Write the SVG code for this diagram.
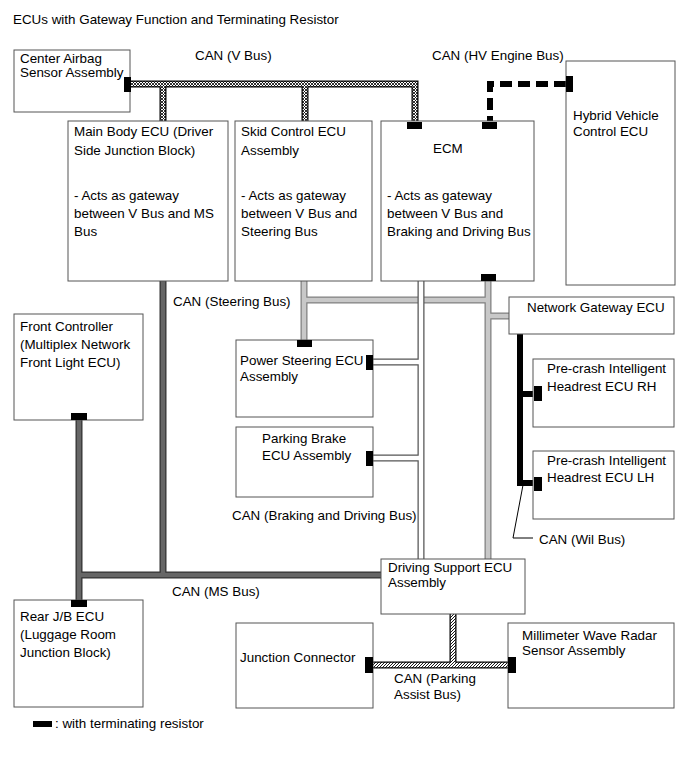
<svg xmlns="http://www.w3.org/2000/svg" width="689" height="757" viewBox="0 0 689 757">
<style>
text{font-family:"Liberation Sans",Arial,sans-serif;font-size:13.4px;fill:#000}
.box{fill:#fff;stroke:#555;stroke-width:1}
.res{fill:#000}
.bus{fill:none;stroke-linecap:butt;stroke-linejoin:miter}
</style>
<defs>
<pattern id="xh" width="3" height="3" patternUnits="userSpaceOnUse">
<rect width="3" height="3" fill="#fff"/>
<path d="M0,0L3,3M3,0L0,3" stroke="#000" stroke-width="0.8"/>
</pattern>
<pattern id="dh" width="3" height="3" patternUnits="userSpaceOnUse">
<rect width="3" height="3" fill="#fff"/>
<path d="M-1,4L4,-1M-1,1L1,-1M2,4L4,2" stroke="#000" stroke-width="0.9"/>
</pattern>
</defs>
<rect width="689" height="757" fill="#fff"/>
<text x="13" y="24">ECUs with Gateway Function and Terminating Resistor</text>

<g id="connectors">
<!-- V Bus -->
<path class="bus" d="M131,84H415V122M163,84V121M305,84V121" stroke="#000" stroke-width="7"/>
<path class="bus" d="M131,84H415V122M163,84V121M305,84V121" stroke="url(#xh)" stroke-width="4.5"/>
<!-- HV Engine Bus -->
<path class="bus" d="M566,84H490V122" stroke="#000" stroke-width="6" stroke-dasharray="12 6"/>
<!-- Steering Bus -->
<path class="bus" d="M304,281V340M304,300H488M488,281V559M488,316H509" stroke="#808080" stroke-width="7"/>
<path class="bus" d="M304,281V340M304,300H488M488,281V559M488,316H509" stroke="#c8c8c8" stroke-width="4.5"/>
<!-- Braking and Driving Bus -->
<path class="bus" d="M421,281V559M373,362H421M373,458H421" stroke="#555" stroke-width="7"/>
<path class="bus" d="M421,281V559M373,362H421M373,458H421" stroke="#fff" stroke-width="4.5"/>
<!-- MS Bus -->
<path class="bus" d="M79,420V600M163,281V575M79,575H381" stroke="#333" stroke-width="7"/>
<path class="bus" d="M79,420V600M163,281V575M79,575H381" stroke="#666" stroke-width="4.5"/>
<!-- Wil Bus -->
<path class="bus" d="M520,334V483H534M520,394H534" stroke="#000" stroke-width="6"/>
<path d="M523,485L513,538H533" fill="none" stroke="#000" stroke-width="1"/>
<!-- Parking Assist Bus -->
<path class="bus" d="M453,614V665M373,665H508" stroke="#000" stroke-width="7"/>
<path class="bus" d="M453,614V665M373,665H508" stroke="url(#dh)" stroke-width="4.5"/>
</g>

<g id="labels">
<text x="195" y="60">CAN (V Bus)</text>
<text x="432" y="60">CAN (HV Engine Bus)</text>
<text x="173" y="306">CAN (Steering Bus)</text>
<text x="232" y="520">CAN (Braking and Driving Bus)</text>
<text x="172" y="596">CAN (MS Bus)</text>
<text x="539" y="544">CAN (Wil Bus)</text>
<text x="394" y="683">CAN (Parking</text>
<text x="394" y="699">Assist Bus)</text>
</g>

<g id="center-airbag">
<rect class="box" x="14" y="50" width="116" height="62"/>
<text x="20" y="63">Center Airbag</text>
<text x="20" y="77">Sensor Assembly</text>
<rect class="res" x="124" y="77" width="7" height="15"/>
</g>
<g id="main-body-ecu">
<rect class="box" x="68" y="121" width="160" height="160"/>
<text x="74" y="136">Main Body ECU (Driver</text>
<text x="74" y="155">Side Junction Block)</text>
<text x="74" y="200">- Acts as gateway</text>
<text x="74" y="218">between V Bus and MS</text>
<text x="74" y="236">Bus</text>
</g>
<g id="skid-control-ecu">
<rect class="box" x="235" y="121" width="137" height="160"/>
<text x="241" y="136">Skid Control ECU</text>
<text x="241" y="155">Assembly</text>
<text x="241" y="200">- Acts as gateway</text>
<text x="241" y="218">between V Bus and</text>
<text x="241" y="236">Steering Bus</text>
</g>
<g id="ecm">
<rect class="box" x="381" y="121" width="153" height="160"/>
<text x="433" y="153">ECM</text>
<text x="387" y="200">- Acts as gateway</text>
<text x="387" y="218">between V Bus and</text>
<text x="387" y="236">Braking and Driving Bus</text>
<rect class="res" x="407" y="122" width="15" height="7"/>
<rect class="res" x="482" y="122" width="15" height="7"/>
<rect class="res" x="481" y="274" width="15" height="7"/>
</g>
<g id="hybrid-vehicle-control-ecu">
<rect class="box" x="566" y="61" width="109" height="224"/>
<text x="573" y="120">Hybrid Vehicle</text>
<text x="573" y="136">Control ECU</text>
<rect class="res" x="566" y="76" width="7" height="16"/>
</g>
<g id="front-controller">
<rect class="box" x="14" y="314" width="129" height="106"/>
<text x="20" y="331">Front Controller</text>
<text x="20" y="349">(Multiplex Network</text>
<text x="20" y="367">Front Light ECU)</text>
<rect class="res" x="71" y="413" width="16" height="7"/>
</g>
<g id="power-steering-ecu">
<rect class="box" x="236" y="340" width="137" height="77"/>
<text x="240" y="365">Power Steering ECU</text>
<text x="240" y="381">Assembly</text>
<rect class="res" x="297" y="340" width="15" height="7"/>
<rect class="res" x="366" y="355" width="7" height="15"/>
</g>
<g id="parking-brake-ecu">
<rect class="box" x="236" y="427" width="137" height="70"/>
<text x="262" y="443">Parking Brake</text>
<text x="262" y="460">ECU Assembly</text>
<rect class="res" x="366" y="451" width="7" height="15"/>
</g>
<g id="network-gateway-ecu">
<rect class="box" x="509" y="297" width="165" height="37"/>
<text x="527" y="312">Network Gateway ECU</text>
</g>
<g id="headrest-rh">
<rect class="box" x="533" y="359" width="141" height="68"/>
<text x="547" y="373">Pre-crash Intelligent</text>
<text x="547" y="391">Headrest ECU RH</text>
<rect class="res" x="534" y="386" width="8" height="15"/>
</g>
<g id="headrest-lh">
<rect class="box" x="533" y="451" width="141" height="68"/>
<text x="547" y="465">Pre-crash Intelligent</text>
<text x="547" y="482">Headrest ECU LH</text>
<rect class="res" x="534" y="477" width="8" height="14"/>
</g>
<g id="driving-support-ecu">
<rect class="box" x="381" y="559" width="144" height="55"/>
<text x="388" y="572">Driving Support ECU</text>
<text x="388" y="587">Assembly</text>
</g>
<g id="rear-jb-ecu">
<rect class="box" x="14" y="600" width="129" height="107"/>
<text x="20" y="621">Rear J/B ECU</text>
<text x="20" y="639">(Luggage Room</text>
<text x="20" y="657">Junction Block)</text>
<rect class="res" x="71" y="600" width="16" height="7"/>
</g>
<g id="junction-connector">
<rect class="box" x="236" y="623" width="137" height="85"/>
<text x="240" y="662">Junction Connector</text>
<rect class="res" x="365" y="657" width="8" height="16"/>
</g>
<g id="millimeter-wave-radar">
<rect class="box" x="508" y="623" width="166" height="85"/>
<text x="522" y="640">Millimeter Wave Radar</text>
<text x="522" y="655">Sensor Assembly</text>
<rect class="res" x="508" y="657" width="8" height="16"/>
</g>
<g id="legend">
<rect class="res" x="33" y="721" width="19" height="6"/>
<text x="55" y="728">: with terminating resistor</text>
</g>
</svg>
